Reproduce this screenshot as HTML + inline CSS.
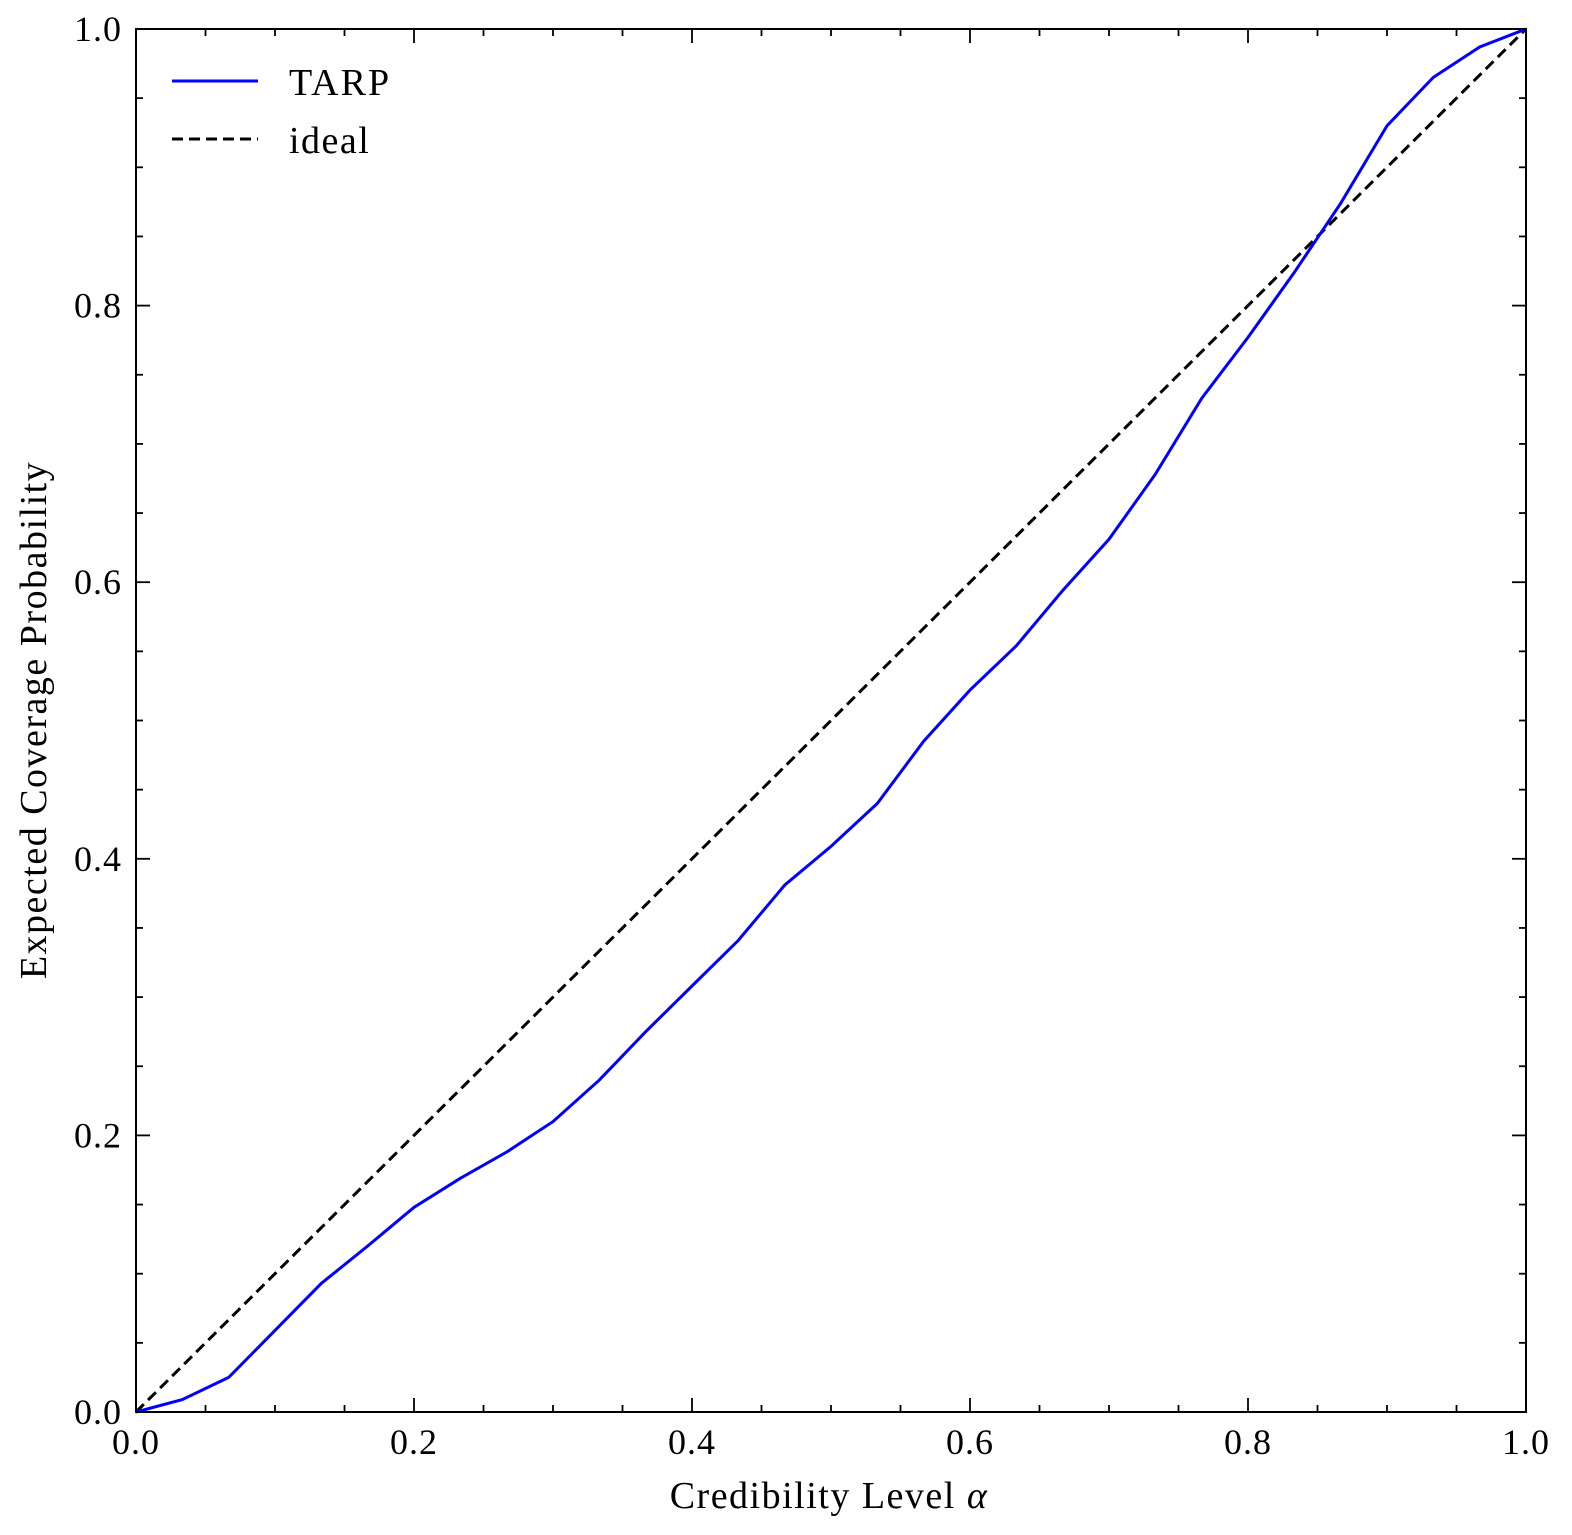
<!DOCTYPE html>
<html><head><meta charset="utf-8">
<style>
html,body{margin:0;padding:0;background:#fff;overflow:hidden;width:1572px;height:1535px;}
svg{display:block;font-family:"Liberation Serif","DejaVu Serif",serif;}
</style></head>
<body>
<svg id="chart" width="1572" height="1535" viewBox="0 0 1572 1535" xmlns="http://www.w3.org/2000/svg">
<rect width="1572" height="1535" fill="#fff"/>
<path id="ideal-line" fill="none" stroke="#000" stroke-width="3" stroke-dasharray="11,6"/>
<path id="tarp-line" fill="none" stroke="#0000ff" stroke-width="3"/>
<rect x="136" y="29" width="1390" height="1383" fill="none" stroke="#000" stroke-width="2"/>
<g id="ticks"></g>
<text x="829" y="1508" font-size="38" letter-spacing="1.5" text-anchor="middle">Credibility Level <tspan font-style="italic">α</tspan></text>
<text transform="translate(46,720) rotate(-90)" font-size="38" letter-spacing="1.5" text-anchor="middle">Expected Coverage Probability</text>
<g>
<line x1="172" y1="81" x2="258" y2="81" stroke="#0000ff" stroke-width="3"/>
<text x="289" y="95" font-size="38" letter-spacing="2">TARP</text>
<line x1="172" y1="139" x2="258" y2="139" stroke="#000" stroke-width="3" stroke-dasharray="11,6"/>
<text x="289" y="153" font-size="38" letter-spacing="1.5">ideal</text>
</g>
</svg>
<script>
const tarpX = [0,1,2,3,4,5,6,7,8,9,10,11,12,13,14,15,16,17,18,19,20,21,22,23,24,25,26,27,28,29,30].map(i=>i/30);
const tarpY = [0,0.009,0.025,0.059,0.093,0.120,0.148,0.169,0.188,0.210,0.240,0.275,0.308,0.341,0.381,0.409,0.440,0.485,0.522,0.554,0.594,0.631,0.678,0.733,0.777,0.824,0.874,0.930,0.965,0.987,1.0];
const idealX = [0,1];
const idealY = [0,1];
const majorTicks = [0,0.2,0.4,0.6,0.8,1.0];
const tickLabels = ["0.0","0.2","0.4","0.6","0.8","1.0"];
const minorTicks = [0.05,0.1,0.15,0.25,0.3,0.35,0.45,0.5,0.55,0.65,0.7,0.75,0.85,0.9,0.95];

const L=136,R=1526,T=29,B=1412;
const sx=v=>L+(R-L)*v;
const sy=v=>B-(B-T)*v;
const NS="http://www.w3.org/2000/svg";

function path(xs,ys){return xs.map((x,i)=>(i?'L':'M')+sx(x).toFixed(1)+','+sy(ys[i]).toFixed(1)).join(' ');}
document.getElementById('tarp-line').setAttribute('d',path(tarpX,tarpY));
document.getElementById('ideal-line').setAttribute('d',path(idealX,idealY));

const tg=document.getElementById('ticks');
function ln(x1,y1,x2,y2){
  const l=document.createElementNS(NS,'line');
  l.setAttribute('x1',x1);l.setAttribute('y1',y1);l.setAttribute('x2',x2);l.setAttribute('y2',y2);
  l.setAttribute('stroke','#000');l.setAttribute('stroke-width','1.8');
  
  
  tg.appendChild(l);
}
majorTicks.forEach((v,i)=>{
  const x=sx(v),y=sy(v);
  ln(x,B,x,B-14);ln(x,T,x,T+14);ln(L,y,L+14,y);ln(R,y,R-14,y);
  const tx=document.createElementNS(NS,'text');
  tx.setAttribute('x',x);tx.setAttribute('y',B+42);tx.setAttribute('text-anchor','middle');tx.setAttribute('font-size','36');tx.setAttribute('letter-spacing','1');
  tx.textContent=tickLabels[i];
  
  
  tg.appendChild(tx);
  const ty=document.createElementNS(NS,'text');
  ty.setAttribute('x',L-14);ty.setAttribute('y',y+12);ty.setAttribute('text-anchor','end');ty.setAttribute('font-size','36');ty.setAttribute('letter-spacing','1');
  ty.textContent=tickLabels[i];
  
  
  tg.appendChild(ty);
});
minorTicks.forEach(v=>{
  const x=sx(v),y=sy(v);
  ln(x,B,x,B-7);ln(x,T,x,T+7);ln(L,y,L+7,y);ln(R,y,R-7,y);
});
</script>
</body></html>
